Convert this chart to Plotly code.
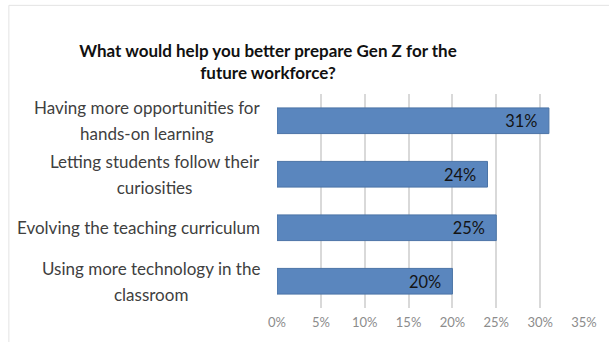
import plotly.graph_objects as go

# Survey responses (share of respondents)
categories = [
    ["Having more opportunities for", "hands-on learning"],
    ["Letting students follow their", "curiosities"],
    ["Evolving the teaching curriculum"],
    ["Using more technology in the", "classroom"],
]
values = [31, 24, 25, 20]
tick_vals = [0, 5, 10, 15, 20, 25, 30, 35]
tick_text = ["0%", "5%", "10%", "15%", "20%", "25%", "30%", "35%"]
title_text = "What would help you better prepare Gen Z for the<br>future workforce?"

W, H = 609, 342
ML, MR, MT, MB = 277, 24, 94, 32
plot_w = W - ML - MR
plot_h = H - MT - MB

keys = [" ".join(c) for c in categories]

fig = go.Figure(
    go.Bar(
        x=values,
        y=keys,
        orientation="h",
        marker=dict(color="#5A86BE", line=dict(color="#4B74A6", width=1)),
        width=0.48,
        text=[f"{v}%&nbsp;&nbsp;" for v in values],
        textposition="inside",
        insidetextanchor="end",
        textfont=dict(family="Lato", size=20, color="#141414"),
        cliponaxis=False,
        hoverinfo="skip",
    )
)

# Category labels: the annotation font size sets the (wider) line pitch,
# while the inner span sets the visible glyph size.
annotations = []
for key, lines in zip(keys, categories):
    body = "<br>".join(f"<span style='font-size:17px'>{ln}</span>" for ln in lines)
    annotations.append(dict(text=body, x=-15 / plot_w, xref="paper", y=key, yref="y",
                            xanchor="right", yanchor="middle", showarrow=False,
                            font=dict(family="Lato", size=20, color="#404040"),
                            align="center"))

fig.update_layout(
    width=W,
    height=H,
    margin=dict(l=ML, r=MR, t=MT, b=MB, pad=0),
    paper_bgcolor="white",
    plot_bgcolor="white",
    showlegend=False,
    title=dict(text=title_text, x=268 / W, xanchor="center", y=1 - 57 / H, yanchor="middle",
               font=dict(family="Lato", size=17, color="#111111", weight="bold")),
    xaxis=dict(range=[0, 35], tickvals=tick_vals, ticktext=tick_text, showgrid=True,
               gridcolor="#D9D9D9", gridwidth=1.5, zeroline=False, showline=False,
               ticks="", ticklabelstandoff=5,
               tickfont=dict(family="Lato", size=13, color="#8C8C8C")),
    yaxis=dict(categoryorder="array", categoryarray=keys[::-1], showticklabels=False,
               showgrid=False, zeroline=False, showline=False, ticks=""),
    annotations=annotations,
    shapes=[dict(type="rect", xref="paper", yref="paper",
                 x0=(8 - ML) / plot_w, x1=(W + 10 - ML) / plot_w,
                 y0=-(MB + 10) / plot_h, y1=1 + (MT - 4.5) / plot_h,
                 line=dict(color="#E3E3E3", width=1), layer="below")],
)

fig.write_html("out.html")
